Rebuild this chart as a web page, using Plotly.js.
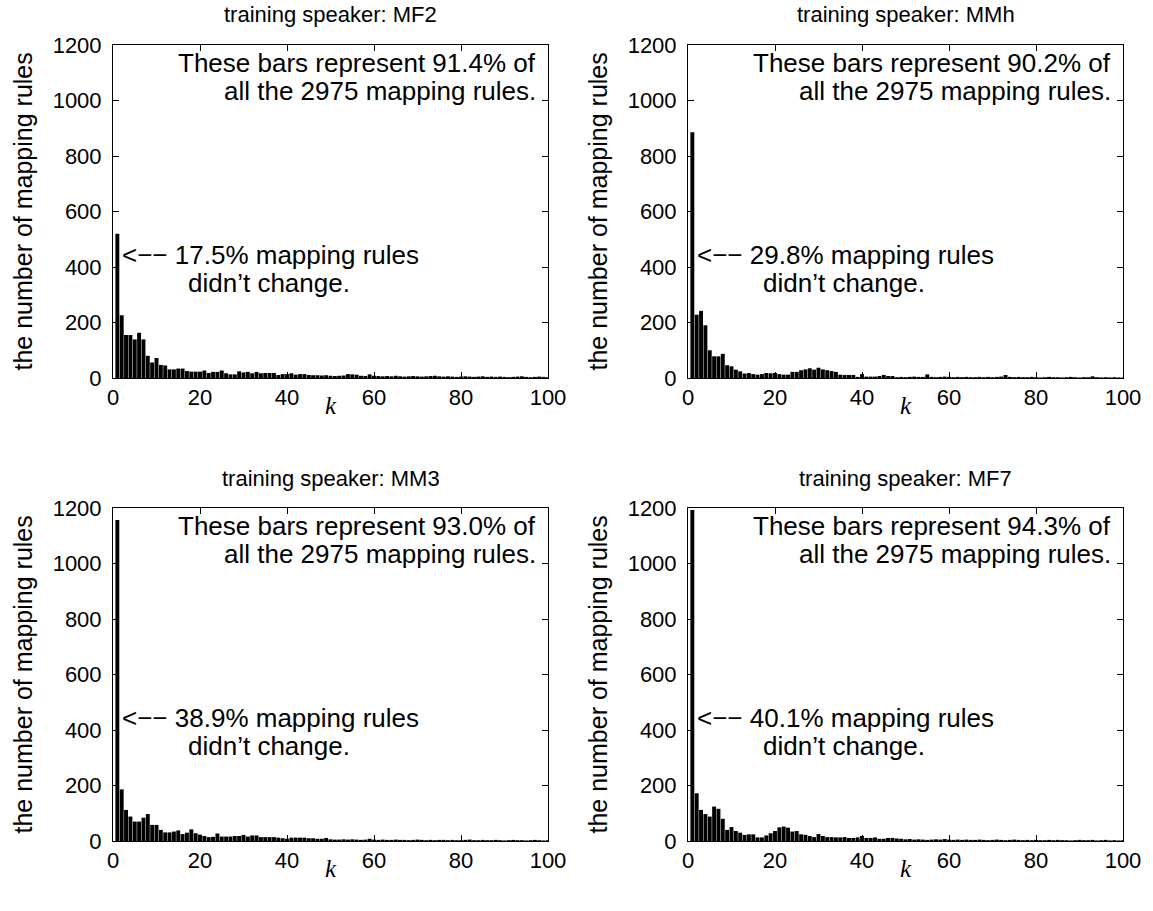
<!DOCTYPE html>
<html>
<head>
<meta charset="utf-8">
<script src="https://cdn.plot.ly/plotly-3.0.1.min.js"></script>
<style>html,body{margin:0;padding:0;background:#fff;}#chart{width:1153px;height:911px;}</style>
</head>
<body>
<div id="chart"></div>
<script>
// ---- data (counts of mapping rules for k = 1..100) ----
const speakers = ["MF2", "MMh", "MM3", "MF7"];
const coveredPct = ["91.4%", "90.2%", "93.0%", "94.3%"];
const unchangedPct = ["17.5%", "29.8%", "38.9%", "40.1%"];
const totalRules = 2975;

const countsMF2 = [520,226,155,155,139,163,139,80,56,72,47,45,31,31,34,34,25,23,23,23,27,
  18,22,22,27,17,13,13,24,20,22,17,22,17,18,18,18,11,14,14,17,12,14,14,11,10,10,9,10,
  8,7,8,9,14,13,12,8,7,13,8,7,6,7,6,8,6,5,6,7,6,5,6,7,8,6,5,6,5,4,5,6,5,4,5,6,4,5,4,5,4,3,4,5,6,4,3,4,5,4,3];
const countsMMh = [886,228,242,190,100,78,78,87,
  46,42,30,24,16,18,14,12,14,18,17,18,14,12,12,
  22,22,28,31,35,30,37,31,28,25,22,
  12,11,11,11,4,14,5,5,5,7,11,7,7,
  3,4,3,4,5,4,4,13,4,3,4,5,4,3,4,3,4,3,3,4,3,4,3,4,5,11,4,3,4,3,3,4,3,2,3,4,3,3,2,3,4,3,2,3,3,6,3,2,3,2,3,2,2];
const countsMM3 = [1157,186,112,88,70,70,84,97,58,58,40,
  31,31,34,38,25,30,42,28,23,18,14,15,27,
  16,16,16,18,18,22,16,20,20,14,14,14,14,12,10,8,12,12,12,12,10,10,8,8,11,
  6,5,5,6,5,6,5,4,5,8,5,4,5,4,4,5,4,4,3,4,5,4,3,4,3,4,4,3,4,3,3,4,5,3,3,4,3,3,4,3,2,3,4,3,3,2,3,4,3,2,3];
const countsMF7 = [1193,172,112,97,88,124,116,80,
  40,50,36,30,22,24,24,13,13,20,28,36,49,52,48,34,36,24,22,18,14,25,18,
  14,14,13,13,14,11,11,13,18,11,11,13,8,8,11,11,9,8,
  6,7,5,6,5,4,5,6,5,7,5,4,5,4,5,4,4,5,4,3,4,5,4,3,4,5,4,3,4,3,4,3,3,4,3,4,3,3,2,3,4,3,3,4,2,3,4,2,3,2,3];
const allCounts = [countsMF2, countsMMh, countsMM3, countsMF7];

const xTicks = [0, 20, 40, 60, 80, 100];
const yTicks = [0, 200, 400, 600, 800, 1000, 1200];

// ---- layout geometry (pixels) ----
const W = 1153, H = 911;
const cols = [[113, 548], [688, 1123]];
const rows = [[45, 378], [508, 841]];
const px = v => v / W;
const py = v => 1 - v / H;

const FONT = "Liberation Sans, Arial, Helvetica, sans-serif";
const data = [];
const layout = {
  width: W, height: H,
  margin: {l: 0, r: 0, t: 0, b: 0},
  paper_bgcolor: "white", plot_bgcolor: "white",
  showlegend: false,
  bargap: 0.1,
  font: {family: FONT, color: "black"},
  annotations: []
};

function note(text, x, y, xanchor, size, extra) {
  return Object.assign({text: text, xref: "paper", yref: "paper", x: px(x), y: py(y),
    xanchor: xanchor, yanchor: "middle", showarrow: false,
    font: {family: FONT, size: size, color: "black"}}, extra || {});
}

for (let i = 0; i < 4; i++) {
  const c = cols[i % 2], r = rows[Math.floor(i / 2)];
  const n = i + 1;
  const xa = n === 1 ? "x" : "x" + n, ya = n === 1 ? "y" : "y" + n;
  const counts = allCounts[i];
  const k = counts.map((_, j) => j + 1);
  data.push({type: "bar", x: k, y: counts, xaxis: xa, yaxis: ya,
    marker: {color: "black", line: {width: 0}}, hoverinfo: "x+y"});
  const common = {showline: true, linecolor: "black", linewidth: 1, mirror: "ticks",
    ticks: "inside", ticklen: 6, tickwidth: 1, tickcolor: "black",
    showgrid: false, zeroline: false, fixedrange: true,
    tickfont: {family: FONT, size: 22, color: "black"}};
  layout["xaxis" + (n === 1 ? "" : n)] = Object.assign({}, common, {
    domain: [px(c[0]), px(c[1])], range: [0, 100], tickvals: xTicks, anchor: ya});
  layout["yaxis" + (n === 1 ? "" : n)] = Object.assign({}, common, {
    domain: [py(r[1]), py(r[0])], range: [0, 1200], tickvals: yTicks, anchor: xa,
    ticklabelstandoff: 6});
  const cx = (c[0] + c[1]) / 2;
  layout.annotations.push(note("training speaker: " + speakers[i], cx, r[0] - 30, "center", 22));
  layout.annotations.push(note("<i>k</i>", cx, r[1] + 27, "center", 25,
    {font: {family: "Liberation Serif, DejaVu Serif, serif", size: 25, color: "black"}}));
  layout.annotations.push(note("the number of mapping rules", c[0] - 91, (r[0] + r[1]) / 2, "center", 25,
    {textangle: -90}));
  layout.annotations.push(note("These bars represent " + coveredPct[i] + " of", c[1] - 10, r[0] + 18, "right", 26));
  layout.annotations.push(note("all the " + totalRules + " mapping rules.", c[1] - 10, r[0] + 46, "right", 26));
  layout.annotations.push(note("<\u2212\u2212 " + unchangedPct[i] + " mapping rules", c[0] + 7, r[0] + 210, "left", 26));
  layout.annotations.push(note("didn\u2019t change.", c[0] + 73, r[0] + 238, "left", 26));
}

Plotly.newPlot("chart", data, layout, {displayModeBar: false, staticPlot: true});
</script>
</body>
</html>
